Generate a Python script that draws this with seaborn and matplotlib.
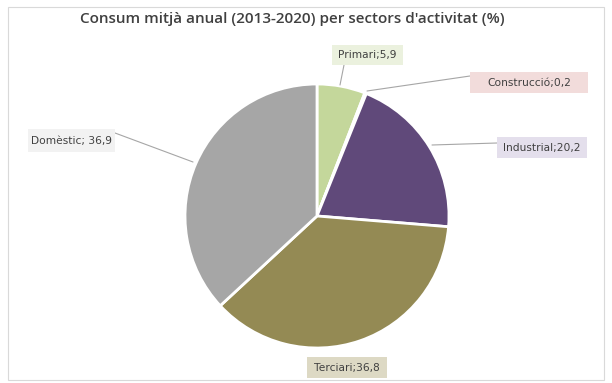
import matplotlib
matplotlib.use("Agg")
import matplotlib.pyplot as plt
import seaborn as sns

sns.set_theme(style="white")
plt.rcParams['font.family'] = ['DejaVu Sans']

categories = ["Primari", "Construcció", "Industrial", "Terciari", "Domèstic"]
values = [5.9, 0.2, 20.2, 36.8, 36.9]
label_texts = ["Primari;5,9", "Construcció;0,2", "Industrial;20,2", "Terciari;36,8", "Domèstic; 36,9"]
colors = ["#c4d79b", "#e6b9b8", "#60497a", "#948a54", "#a6a6a6"]
label_bg = ["#ebf1de", "#f2dcdb", "#e4dfec", "#ddd9c4", "#f2f2f2"]

W, H = 612, 383
cx, cy, R = 317, 216, 132

fig = plt.figure(figsize=(W / 100, H / 100), dpi=100)
fig.patch.set_facecolor("white")
ax = fig.add_axes([0, 0, 1, 1])
ax.axis("off")

def d(px, py):
    return ((px - cx) / R, (cy - py) / R)

# outer chart frame
frame = plt.Rectangle(d(8, 380), (604 - 8) / R, (380 - 7) / R, fill=False,
                      edgecolor="#d9d9d9", linewidth=0.8)
ax.add_patch(frame)

wedges, _ = ax.pie(values, colors=colors, startangle=90, counterclock=False,
                   radius=1.0, center=(0, 0),
                   wedgeprops=dict(edgecolor="white", linewidth=2))
ax.set_xlim(-cx / R, (W - cx) / R)
ax.set_ylim(-(H - cy) / R, cy / R)
ax.set_aspect("equal")

# label boxes (pixel extents) and leader lines
boxes = [(332, 45, 403, 65), (470, 72, 588, 93), (497, 137, 587, 158),
         (307, 357, 387, 378), (28, 129, 115, 152)]
line_pts = [((344, 65), (340, 85)),
            ((470, 76), (367, 91)),
            ((497, 143), (432, 145)),
            None,
            ((115, 133), (193, 162))]

for txt, box, bg, ln in zip(label_texts, boxes, label_bg, line_pts):
    if ln is not None:
        (x0, y0), (x1, y1) = d(*ln[0]), d(*ln[1])
        ax.plot([x0, x1], [y0, y1], color="#a6a6a6", linewidth=0.8, zorder=3)
    bx0, by0, bx1, by1 = box
    ax.add_patch(plt.Rectangle(d(bx0, by1), (bx1 - bx0) / R, (by1 - by0) / R,
                               facecolor=bg, edgecolor="none", zorder=4))
    ax.text(*d((bx0 + bx1) / 2, (by0 + by1) / 2), txt, ha="center", va="center",
            fontsize=7.7, color="#404040", zorder=5)

ax.text(*d(292, 19), "Consum mitjà anual (2013-2020) per sectors d'activitat (%)",
        ha="center", va="center", fontsize=11, fontweight="semibold",
        family=["Open Sans", "DejaVu Sans"], color="#404040")

fig.savefig("out.png", dpi=100)
